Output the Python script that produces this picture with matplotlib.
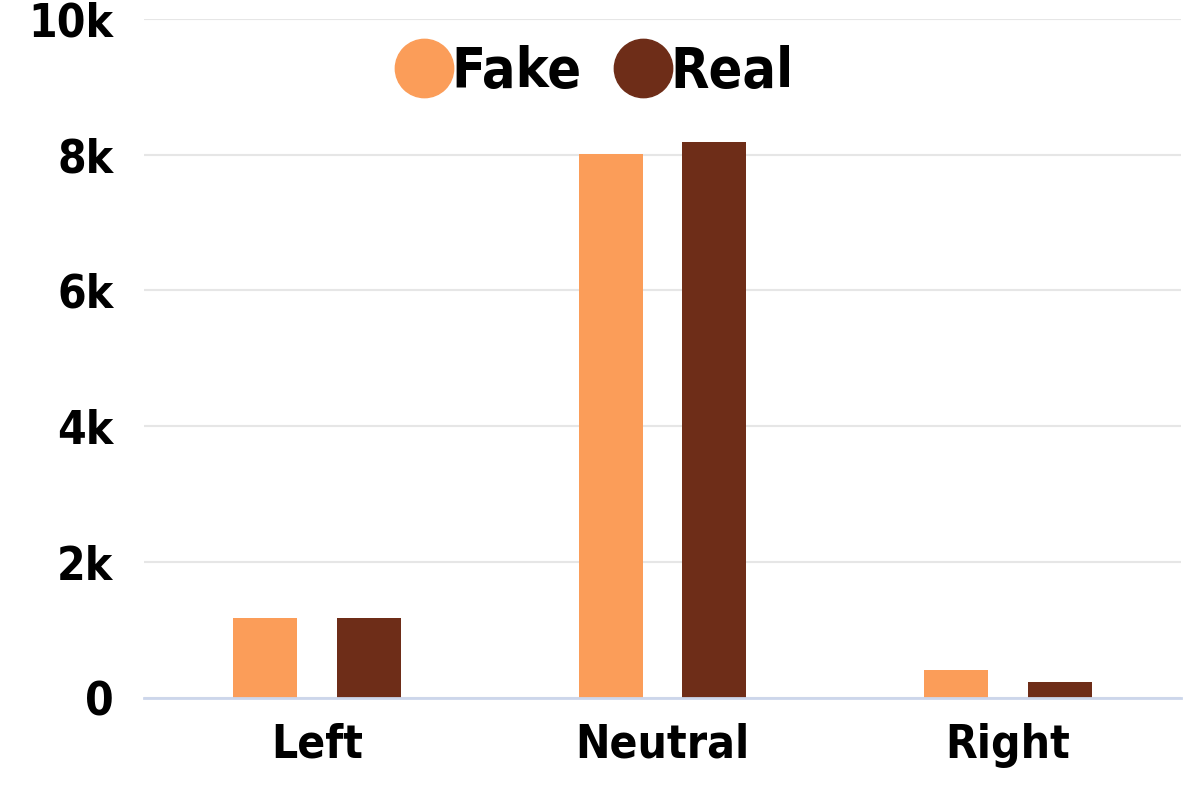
import matplotlib.pyplot as plt
import numpy as np
from matplotlib.lines import Line2D

# data
categories = ['Left', 'Neutral', 'Right']
fake = [1180, 8010, 410]
real = [1180, 8190, 240]
yticks = [0, 2000, 4000, 6000, 8000, 10000]
ytick_labels = ['0', '2k', '4k', '6k', '8k', '10k']

fake_color = '#fb9d59'
real_color = '#6e2d18'

plt.rcParams['font.family'] = ['DejaVu Sans']

fig = plt.figure(figsize=(12, 8), dpi=100)
ax = fig.add_axes([0.12, 0.1275, 0.864, 0.849])

x = np.arange(len(categories))
w = 0.185
ax.bar(x - 0.15, fake, w, color=fake_color, zorder=3)
ax.bar(x + 0.15, real, w, color=real_color, zorder=3)

ax.set_xlim(-0.5, 2.5)
ax.set_ylim(0, 10000)
ax.set_yticks(yticks)
ax.set_yticklabels(ytick_labels)
ax.set_xticks(x)
ax.set_xticklabels(categories)

for lab in ax.get_yticklabels() + ax.get_xticklabels():
    lab.set_fontsize(33)
    lab.set_fontweight('bold')
    lab.set_fontstretch('condensed')

ax.tick_params(axis='y', length=0, pad=22)
ax.tick_params(axis='x', length=0, pad=18)
ax.grid(axis='y', color='#e6e6e6', linewidth=1.5, zorder=0)
for s in ['top', 'right', 'left']:
    ax.spines[s].set_visible(False)
ax.spines['bottom'].set_color('#ccd6eb')
ax.spines['bottom'].set_linewidth(2)
ax.spines['bottom'].set_zorder(4)

handles = [Line2D([], [], marker='o', linestyle='', markersize=42, color=fake_color),
           Line2D([], [], marker='o', linestyle='', markersize=42, color=real_color)]
leg = ax.legend(handles, ['Fake', 'Real'], loc='center',
                bbox_to_anchor=(595 / 1200, 1 - 72 / 800), bbox_transform=fig.transFigure,
                ncol=2, frameon=False, handletextpad=0.0, columnspacing=0.6,
                handlelength=1.0,
                prop=dict(size=40, weight='bold', stretch='condensed'))

fig.savefig('out.png', dpi=100)
